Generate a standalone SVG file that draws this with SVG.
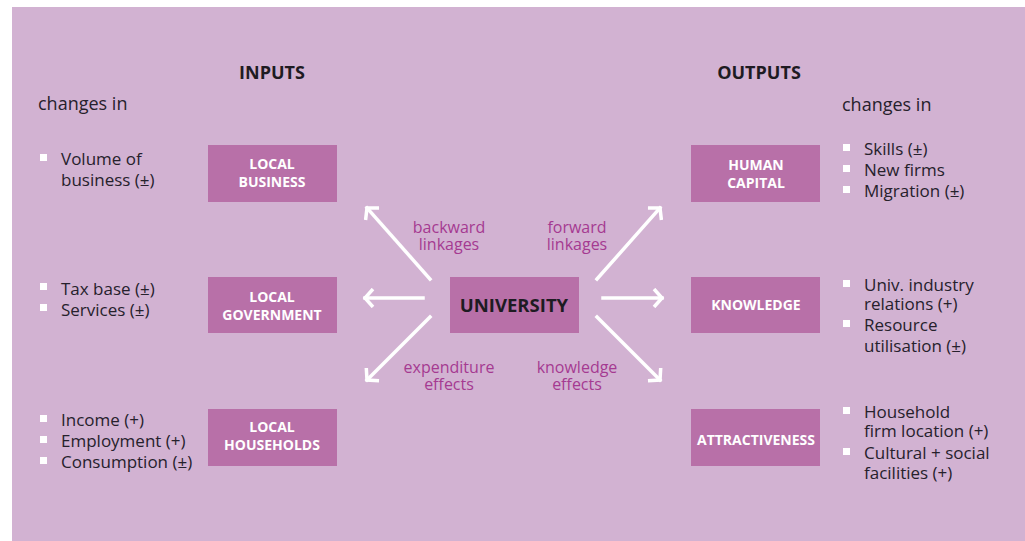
<svg xmlns="http://www.w3.org/2000/svg" width="1025" height="541" viewBox="0 0 1025 541">
<defs>
<style>
.bg{fill:#d2b2d2}
.box{fill:#b870a8}
.bt{font-family:"Open Sans","Liberation Sans",sans-serif;font-weight:700;font-size:14px;fill:#ffffff;text-anchor:middle}
.hd{font-family:"Open Sans","Liberation Sans",sans-serif;font-weight:700;font-size:18px;fill:#1e1b22;text-anchor:middle}
.tx{font-family:"Open Sans","Liberation Sans",sans-serif;font-size:17px;fill:#26212c}
.ch{font-family:"Open Sans","Liberation Sans",sans-serif;font-size:18px;fill:#26212c}
.lb{font-family:"Open Sans","Liberation Sans",sans-serif;font-size:16px;fill:#a53a91;text-anchor:middle}
.sq{fill:#ffffff}
.ar{stroke:#ffffff;stroke-width:3.5;fill:none;stroke-linecap:square}
</style>
<marker id="ah" viewBox="0 0 20 20" refX="10" refY="10" markerWidth="20" markerHeight="20" markerUnits="userSpaceOnUse" orient="auto">
<path d="M2,1 L10,10 L2,19" fill="none" stroke="#ffffff" stroke-width="3.5"/>
</marker>
</defs>
<rect class="bg" x="12" y="7" width="1013" height="534"/>
<text class="hd" x="272" y="79">INPUTS</text>
<text class="hd" x="759" y="79">OUTPUTS</text>
<text class="ch" x="38" y="110">changes in</text>
<text class="ch" x="842" y="111">changes in</text>
<g id="inputs-lists">
<rect class="sq" x="40" y="154" width="7" height="7"/>
<text class="tx" x="61" y="165">Volume of</text>
<text class="tx" x="61" y="186">business (±)</text>
<rect class="sq" x="40" y="283" width="7" height="7"/>
<text class="tx" x="61" y="295">Tax base (±)</text>
<rect class="sq" x="40" y="304" width="7" height="7"/>
<text class="tx" x="61" y="316">Services (±)</text>
<rect class="sq" x="40" y="415" width="7" height="7"/>
<text class="tx" x="61" y="426">Income (+)</text>
<rect class="sq" x="40" y="436" width="7" height="7"/>
<text class="tx" x="61" y="447">Employment (+)</text>
<rect class="sq" x="40" y="457" width="7" height="7"/>
<text class="tx" x="61" y="468">Consumption (±)</text>
</g>
<g id="outputs-lists">
<rect class="sq" x="843" y="144" width="7" height="7"/>
<text class="tx" x="864" y="155">Skills (±)</text>
<rect class="sq" x="843" y="165" width="7" height="7"/>
<text class="tx" x="864" y="176">New firms</text>
<rect class="sq" x="843" y="186" width="7" height="7"/>
<text class="tx" x="864" y="197">Migration (±)</text>
<rect class="sq" x="843" y="280" width="7" height="7"/>
<text class="tx" x="864" y="291">Univ. industry</text>
<text class="tx" x="864" y="310">relations (+)</text>
<rect class="sq" x="843" y="320" width="7" height="7"/>
<text class="tx" x="864" y="331">Resource</text>
<text class="tx" x="864" y="352">utilisation (±)</text>
<rect class="sq" x="843" y="407" width="7" height="7"/>
<text class="tx" x="864" y="418">Household</text>
<text class="tx" x="864" y="437">firm location (+)</text>
<rect class="sq" x="843" y="448" width="7" height="7"/>
<text class="tx" x="864" y="459">Cultural + social</text>
<text class="tx" x="864" y="479">facilities (+)</text>
</g>
<g id="connectors">
<line class="ar" x1="430" y1="279" x2="367" y2="208" marker-end="url(#ah)"/>
<line class="ar" x1="423" y1="298" x2="365" y2="298" marker-end="url(#ah)"/>
<line class="ar" x1="430" y1="317" x2="367" y2="380" marker-end="url(#ah)"/>
<line class="ar" x1="597" y1="279" x2="660" y2="208" marker-end="url(#ah)"/>
<line class="ar" x1="603" y1="298" x2="662" y2="298" marker-end="url(#ah)"/>
<line class="ar" x1="597" y1="317" x2="660" y2="380" marker-end="url(#ah)"/>
<text class="lb" x="449" y="233">backward</text>
<text class="lb" x="449" y="250">linkages</text>
<text class="lb" x="577" y="233">forward</text>
<text class="lb" x="577" y="250">linkages</text>
<text class="lb" x="449" y="373">expenditure</text>
<text class="lb" x="449" y="390">effects</text>
<text class="lb" x="577" y="373">knowledge</text>
<text class="lb" x="577" y="390">effects</text>
</g>
<g id="local-business">
<rect class="box" x="208" y="145" width="129" height="57"/>
<text class="bt" x="272" y="169">LOCAL</text>
<text class="bt" x="272" y="187">BUSINESS</text>
</g>
<g id="local-government">
<rect class="box" x="208" y="277" width="129" height="56"/>
<text class="bt" x="272" y="302">LOCAL</text>
<text class="bt" x="272" y="320">GOVERNMENT</text>
</g>
<g id="local-households">
<rect class="box" x="208" y="409" width="129" height="57"/>
<text class="bt" x="272" y="432">LOCAL</text>
<text class="bt" x="272" y="450">HOUSEHOLDS</text>
</g>
<g id="university">
<rect class="box" x="450" y="277" width="129" height="56"/>
<text class="hd" x="514" y="312" style="font-size:18.5px">UNIVERSITY</text>
</g>
<g id="human-capital">
<rect class="box" x="691" y="145" width="129" height="57"/>
<text class="bt" x="756" y="170">HUMAN</text>
<text class="bt" x="756" y="188">CAPITAL</text>
</g>
<g id="knowledge">
<rect class="box" x="691" y="277" width="129" height="56"/>
<text class="bt" x="756" y="310">KNOWLEDGE</text>
</g>
<g id="attractiveness">
<rect class="box" x="691" y="409" width="129" height="57"/>
<text class="bt" x="756" y="445">ATTRACTIVENESS</text>
</g>
</svg>
